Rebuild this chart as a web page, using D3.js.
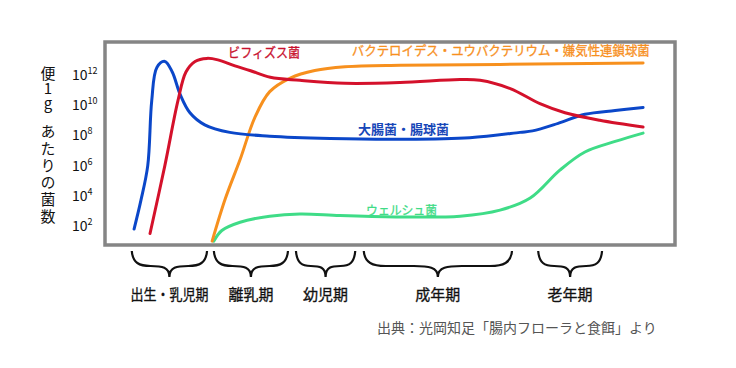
<!DOCTYPE html>
<html><head><meta charset="utf-8">
<script src="https://cdn.jsdelivr.net/npm/d3@7"></script>
<style>body{margin:0;background:#fff}svg{display:block}text{font-family:"Noto Sans CJK JP","Noto Sans",sans-serif}</style>
</head><body><div id="c"></div>
<script>
// x: relative life-time position (0-100), y: log10(bacteria per gram of feces)
const blueData = [[5.1,1.8],[6.3,3.7],[7.5,6.0],[8.2,10.3],[9.1,12.5],[10.5,12.9],[11.8,12.2],[13.2,10.7],[14.9,9.5],[17.5,8.7],[21.9,8.2],[28.9,7.95],[39.5,7.8],[51.8,7.75],[64.0,7.85],[72.8,8.2],[75.0,8.3],[79.5,8.8],[84.2,9.4],[89.5,9.65],[94.4,9.85]];
const redData = [[7.9,1.5],[10.5,6.0],[12.8,10.3],[14.2,12.2],[15.8,12.9],[17.9,13.1],[19.8,13.0],[22.8,12.6],[25.4,12.3],[29.0,11.85],[34.2,11.65],[42.1,11.45],[51.8,11.5],[62.3,11.7],[65.8,11.65],[71.1,11.1],[76.3,10.1],[80.7,9.5],[86.8,9.0],[94.4,8.55]];
const orangeData = [[18.8,1.0],[21.1,3.8],[23.7,6.4],[26.3,9.2],[28.9,10.9],[32.5,11.8],[36.8,12.3],[42.1,12.55],[51.8,12.65],[69.3,12.7],[94.4,12.8]];
const greenData = [[19.1,1.0],[20.5,1.7],[23.7,2.25],[28.9,2.65],[34.2,2.8],[41.2,2.7],[51.8,2.6],[62.3,2.65],[69.3,3.05],[74.6,3.85],[79.8,5.7],[84.2,6.9],[89.5,7.6],[94.4,8.15]];
const seriesNames = ["大腸菌・腸球菌","ビフィズス菌","バクテロイデス・ユウバクテリウム・嫌気性連鎖球菌","ウェルシュ菌"];
const seriesColors = ["#0b47c9","#d4112b","#f7901e","#3fdc87"];
const labelColors = ["#1747b8","#c8102e","#f7901e","#3fdc87"];
// label anchor positions in data units
const labelPos = [[44.4,8.35],[21.6,13.45],[43.3,13.55],[45.8,2.95]];
const tickExps = [12,10,8,6,4,2];
const stageNames = ["出生・乳児期","離乳期","幼児期","成年期","老年期"];
const stageStart = [4.7,19.1,33.5,45.4,76.0];
const stageEnd = [17.9,32.1,43.9,71.4,87.2];
const yTitleParts = ["便1g","あたりの菌数"];
const sourceText = "出典：光岡知足「腸内フローラと食餌」より";

const W=736,H=368;
const svg=d3.select("#c").append("svg").attr("width",W).attr("height",H);
const x=d3.scaleLinear().domain([0,100]).range([105,675]);
const y=d3.scaleLinear().domain([2,12]).range([226,75]);

// frame
svg.append("rect").attr("x",105).attr("y",42).attr("width",570).attr("height",203)
  .attr("fill","none").attr("stroke","#858585").attr("stroke-width",3.5);

const line=d3.line().x(d=>x(d[0])).y(d=>y(d[1])).curve(d3.curveCatmullRom.alpha(0.5));
const all=[blueData,redData,orangeData,greenData];
const order=[3,2,0,1];
order.forEach(i=>{
  svg.append("path").attr("d",line(all[i])).attr("fill","none")
    .attr("stroke",seriesColors[i]).attr("stroke-width",3).attr("stroke-linecap","round");
});
const labelW=[91,72,298,71];
const labelFs=[13,13,13,12.5];
seriesNames.forEach((n,i)=>{
  svg.append("text").attr("x",x(labelPos[i][0])).attr("y",y(labelPos[i][1]))
    .attr("font-size",labelFs[i]).attr("font-weight",i===0?"bold":"normal")
    .attr("textLength",labelW[i]).attr("lengthAdjust","spacingAndGlyphs")
    .attr("stroke",labelColors[i]).attr("stroke-width",i===0?0:0.3)
    .attr("fill",labelColors[i]).attr("dominant-baseline","middle").text(n);
});

// y ticks
tickExps.forEach(e=>{
  const t=svg.append("text").attr("x",72).attr("y",y(e)+5).attr("font-size",14).attr("fill","#111");
  t.append("tspan").text("10");
  t.append("tspan").attr("dy",-6).attr("font-size",9).text(e);
});
// y title (vertical writing)
const titleTop=[66,124];
yTitleParts.forEach((s,i)=>{
  svg.append("text").attr("x",48).attr("y",titleTop[i])
    .style("writing-mode","vertical-rl").style("text-orientation","upright")
    .attr("font-size",15).attr("letter-spacing",i===0?0:2).attr("fill","#111").text(s);
});

// braces
const y0=251,ym=266,yt=277;
stageNames.forEach((n,i)=>{
  const x0=x(stageStart[i]),x1=x(stageEnd[i]),xc=(x0+x1)/2,half=(x1-x0)/2;
  const r1=Math.min(22,half*0.5), r2=Math.min(24,half*0.5);
  const p=`M${x0},${y0} C${x0+1},${ym-3} ${x0+r1*0.4},${ym} ${x0+r1},${ym} L${xc-r2},${ym} C${xc-r2*0.4},${ym} ${xc},${ym+1} ${xc},${yt} C${xc},${ym+1} ${xc+r2*0.4},${ym} ${xc+r2},${ym} L${x1-r1},${ym} C${x1-r1*0.4},${ym} ${x1-1},${ym-3} ${x1},${y0}`;
  svg.append("path").attr("d",p).attr("fill","none").attr("stroke","#111").attr("stroke-width",2.2);
  const t=svg.append("text").attr("x",xc).attr("y",296).attr("text-anchor","middle")
    .attr("dominant-baseline","middle").attr("font-size",15).attr("fill","#111")
    .attr("stroke","#111").attr("stroke-width",0.3).text(n);
  if(i===0) t.attr("textLength",78).attr("lengthAdjust","spacingAndGlyphs");
});
svg.append("text").attr("x",377).attr("y",329).attr("dominant-baseline","middle")
  .attr("font-size",14).attr("fill","#555").text(sourceText);
</script></body></html>
